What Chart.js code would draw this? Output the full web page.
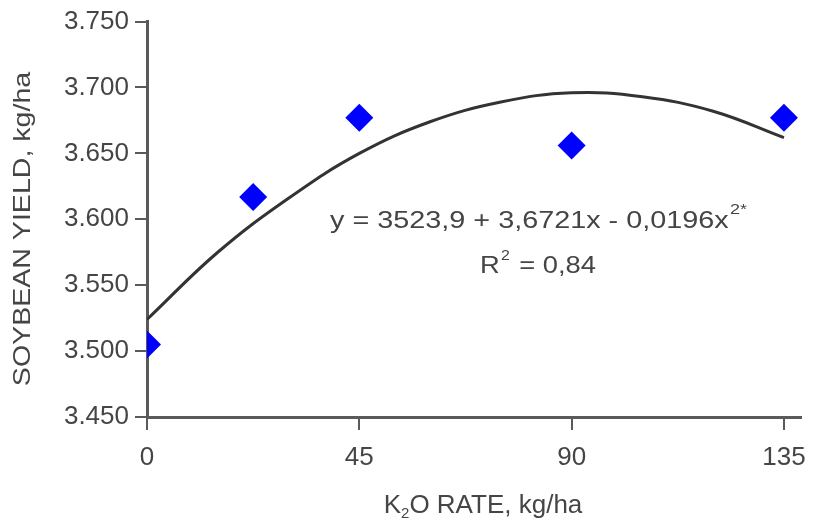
<!DOCTYPE html>
<html>
<head>
<meta charset="utf-8">
<script src="https://cdn.jsdelivr.net/npm/chart.js@4.4.1/dist/chart.umd.min.js"></script>
<style>
  html, body { margin: 0; padding: 0; background: #fff; }
  #wrap { width: 818px; height: 522px; }
</style>
</head>
<body>
<div id="wrap"><canvas id="graph1" width="818" height="522"></canvas></div>
<script>
// K2O rate (kg/ha) and measured soybean yield (kg/ha)
var rates = [0, 22.5, 45, 90, 135];
var yields = [3505, 3617, 3677, 3656, 3677];

// fitted curve
var curveX = [0, 15, 30, 45, 60, 75, 90, 105, 120, 135];
var curveY = [3524, 3575, 3616, 3650, 3674, 3689, 3696, 3693, 3682, 3662];

var xTicks = [0, 45, 90, 135];
var yTicks = [3450, 3500, 3550, 3600, 3650, 3700, 3750];

var eqLine = 'y = 3523,9 + 3,6721x - 0,0196x';
var eqSup = '2*';
var r2Text = '= 0,84';
var yTitle = 'SOYBEAN YIELD, kg/ha';

var txt = '#454545';
var axisCol = '#5a5a5a';
var font = 'Liberation Sans, Arial, sans-serif';

var pts = rates.map(function (r, i) { return { x: r, y: yields[i] }; });
var curve = curveX.map(function (r, i) { return { x: r, y: curveY[i] }; });

// titles, equation and R2 (the source text is set a bit wide)
var textPlugin = {
  id: 'texts',
  afterDraw: function (chart) {
    var c = chart.ctx;
    var sx = 1.2;
    c.save();
    c.fillStyle = txt;
    c.textBaseline = 'alphabetic';
    c.textAlign = 'left';

    // equation
    c.save();
    c.translate(330, 228);
    c.scale(sx, 1);
    c.font = '24px ' + font;
    c.fillText(eqLine, 0, 0);
    var w = c.measureText(eqLine).width;
    c.font = '15px ' + font;
    c.fillText(eqSup, w + 1, -14);
    c.restore();

    // R2
    c.save();
    c.translate(480, 273);
    c.scale(1.14, 1);
    c.font = '24px ' + font;
    c.fillText('R', 0, 0);
    var rw = c.measureText('R').width;
    c.font = '14px ' + font;
    c.fillText('2', rw + 1, -13);
    c.font = '24px ' + font;
    c.fillText(r2Text, rw + 17, 0);
    c.restore();

    // y title
    c.save();
    c.translate(30, 229);
    c.rotate(-Math.PI / 2);
    c.scale(1.19, 1);
    c.font = '24px ' + font;
    c.textAlign = 'center';
    c.fillText(yTitle, 0, 0);
    c.restore();

    // x title, K2O with subscript
    c.save();
    c.font = '26px ' + font;
    var k = 'K', rest = 'O RATE, kg/ha';
    var kw = c.measureText(k).width;
    var restW = c.measureText(rest).width;
    c.font = '15px ' + font;
    var sw = c.measureText('2').width;
    var total = kw + sw + restW;
    var x0 = 483 - total / 2, base = 513;
    c.font = '26px ' + font;
    c.fillText(k, x0, base);
    c.font = '15px ' + font;
    c.fillText('2', x0 + kw, base + 5);
    c.font = '26px ' + font;
    c.fillText(rest, x0 + kw + sw, base);
    c.restore();

    c.restore();
  }
};

var graph1 = document.getElementById('graph1').getContext('2d');
var chart = new Chart(graph1, {
  type: 'scatter',
  data: {
    datasets: [{
      label: 'fit',
      type: 'line',
      data: curve,
      borderColor: '#333',
      borderWidth: 3,
      pointRadius: 0,
      tension: 0.4,
      fill: false,
      order: 2
    }, {
      label: 'yield',
      data: pts,
      pointStyle: 'rectRot',
      pointRadius: 14,
      pointHoverRadius: 14,
      backgroundColor: '#0000ff',
      borderColor: '#0000ff',
      borderWidth: 0,
      order: 1
    }]
  },
  options: {
    responsive: false,
    animation: false,
    layout: { padding: { top: 18, right: 11, left: 0, bottom: 0 } },
    plugins: {
      legend: { display: false },
      tooltip: { enabled: false }
    },
    scales: {
      x: {
        type: 'linear',
        min: 0,
        max: 138.6,
        afterBuildTicks: function (s) { s.ticks = xTicks.map(function (v) { return { value: v }; }); },
        afterFit: function (s) { s.height = 105; },
        grid: { drawOnChartArea: false, tickLength: 13, tickColor: axisCol, lineWidth: 2 },
        border: { color: axisCol, width: 3 },
        ticks: { color: txt, font: { size: 26, family: font }, padding: 12, maxRotation: 0 }
      },
      y: {
        min: 3450,
        max: 3750,
        afterBuildTicks: function (s) { s.ticks = yTicks.map(function (v) { return { value: v }; }); },
        afterFit: function (s) { s.width = 147; },
        grid: { drawOnChartArea: false, tickLength: 12, tickColor: axisCol, lineWidth: 2 },
        border: { color: axisCol, width: 3 },
        ticks: {
          color: txt,
          font: { size: 26, family: font },
          padding: 6,
          callback: function (v) { return (v / 1000).toFixed(3); }
        }
      }
    }
  },
  plugins: [textPlugin]
});
</script>
</body>
</html>
